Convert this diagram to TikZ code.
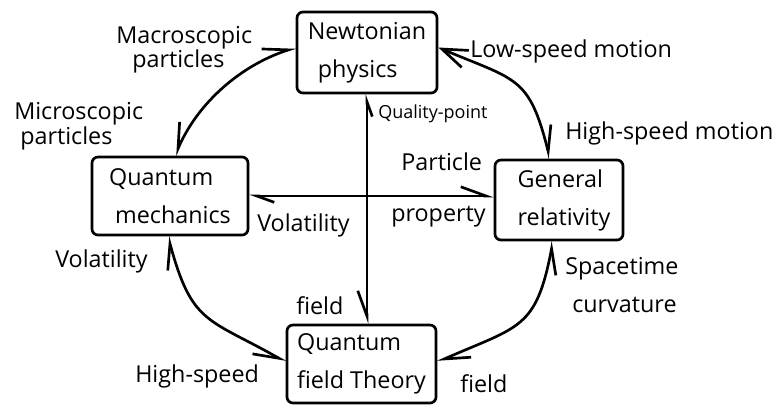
\documentclass[tikz,border=0pt]{standalone}
\usepackage{fontspec}
\setmainfont{Open Sans}
\usetikzlibrary{arrows.meta,calc}
\tikzset{
  hl/.tip={Straight Barb[harpoon,angle'=40,length=19pt]},
  hr/.tip={Straight Barb[harpoon,swap,angle'=40,length=19pt]},
  fb/.tip={Straight Barb[angle'=40,length=19pt]},
}
\begin{document}
\begin{tikzpicture}[x=0.75pt,y=-0.75pt,
  box/.style={draw,line width=2pt,rounded corners=4.5pt,align=left,inner sep=0pt,font=\fontsize{17.5pt}{28.5pt}\selectfont},
  lab/.style={anchor=base west,inner sep=0pt,font=\fontsize{17.5pt}{21pt}\selectfont},
  smalllab/.style={anchor=base west,inner sep=0pt,font=\fontsize{13.5pt}{16pt}\selectfont},
  conn/.style={line width=2pt}]
\useasboundingbox (0,0) rectangle (780,405);
% boxes
\node[box,minimum width=105pt,minimum height=60.75pt] (nw) at (367,52.5) {Newtonian\\\hspace*{7.5pt}physics};
\node[box,minimum width=117pt,minimum height=58.5pt] (qm) at (170,196) {Quantum\\\hspace*{4.5pt}mechanics};
\node[box,minimum width=96pt,minimum height=60pt] (gr) at (559,200) {\hspace*{7.5pt}General\\\hspace*{7.5pt}relativity};
\node[box,minimum width=111.75pt,minimum height=58.5pt] (qft) at (361.5,364) {Quantum\\field Theory};
% connectors
\draw[conn,{hr}-{hl}] ($(qm.north)+(5,0)$) .. controls +(23,-53) and +(-55,18) .. ($(nw.west)+(0,-5)$);
\draw[conn,{fb}-{hl}] ($(nw.east)+(0,-5)$) .. controls +(78,33) and +(-21,-83) .. ($(gr.north)+(-9,0)$);
\draw[conn,{hl}-{hr}] ($(qm.south)+(-2,0)$) .. controls +(24,88) and +(-78,-44) .. ($(qft.west)+(0,-2)$);
\draw[conn,{hr}-{hl}] ($(gr.south)+(-6,0)$) .. controls +(-17,88) and +(82,-36) .. ($(qft.east)+(0,-2)$);
\draw[conn,{hr[length=11pt]}-{hr}] (nw.south) -- (nw.south |- qft.north);
\draw[conn,{hl[length=13pt]}-{hl}] (qm.east) -- (qm.east -| gr.west);
% labels
\node[lab] (l1a) at (116,43) {Macroscopic};
\node[lab] (l1b) at (132,67) {particles};
\node[lab] (l2) at (470,57) {Low-speed motion};
\node[lab] (l3a) at (14,119) {Microscopic};
\node[lab] (l3b) at (20,144) {particles};
\node[lab] (l4) at (565,139) {High-speed motion};
\node[smalllab] (l5) at (378,118) {Quality-point};
\node[lab] (l6a) at (401,170) {Particle};
\node[lab] (l6b) at (391,221) {property};
\node[lab] (l7) at (257,231) {Volatility};
\node[lab] (l8) at (55,267) {Volatility};
\node[lab] (l9a) at (565,274) {Spacetime};
\node[lab] (l9b) at (572,312) {curvature};
\node[lab] (l10) at (296,314) {field};
\node[lab] (l11) at (135,382) {High-speed};
\node[lab] (l12) at (460,392) {field};
\end{tikzpicture}
\end{document}
